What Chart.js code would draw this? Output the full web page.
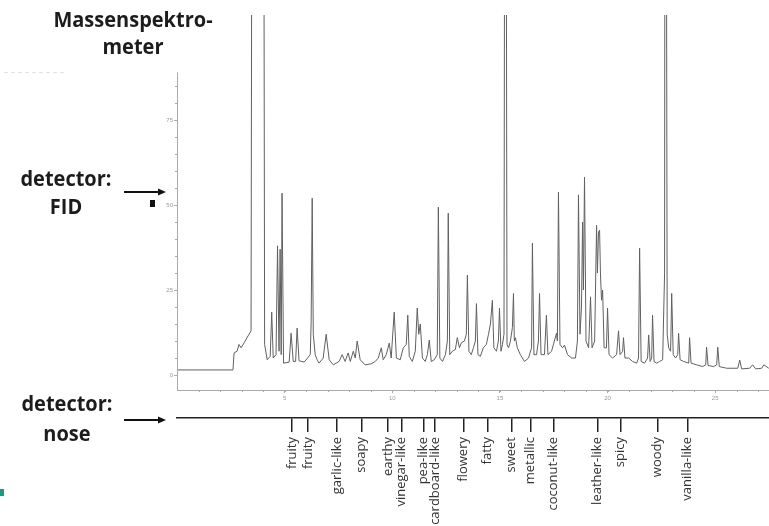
<!DOCTYPE html>
<html lang="de">
<head>
<meta charset="UTF-8">
<title>GC-FID / GC-O</title>
<script src="https://cdn.jsdelivr.net/npm/chart.js"></script>
<style>
  html, body { margin: 0; padding: 0; background: #fff; }
  #wrap { position: relative; width: 769px; height: 526px; overflow: hidden; }
  #c { position: absolute; left: 0; top: 0; }
  .lbl { position: absolute; font-family: "Open Sans", sans-serif; font-weight: 700; font-size: 20px;
         color: #1c1c1c; text-align: center; line-height: 25px; transform: scaleY(1.1); }
</style>
</head>
<body>
<div id="wrap">
  <canvas id="c" width="769" height="526"></canvas>
  <div class="lbl" style="left:23px; top:9px; width:220px; line-height:24px;">Massenspektro-<br>meter</div>
  <div class="lbl" style="left:0px; top:167px; width:132px;">detector:<br>FID</div>
  <div class="lbl" style="left:0px; top:391px; width:134px; line-height:27px;">detector:<br>nose</div>
</div>
<script>
// FID trace: retention time (min) and detector signal
const fidTime = [
  0.00, 2.60, 2.65, 2.79, 2.88, 2.98, 3.12, 3.30, 3.44, 3.49,
  4.02, 4.07, 4.19, 4.33, 4.40, 4.47, 4.60, 4.67, 4.74, 4.79,
  4.84, 4.88, 4.95, 5.21, 5.30, 5.40, 5.51, 5.58, 5.67, 5.91,
  6.19, 6.23, 6.28, 6.33, 6.42, 6.51, 6.60, 6.79, 6.93, 7.07,
  7.26, 7.53, 7.67, 7.81, 7.95, 8.05, 8.19, 8.28, 8.37, 8.51,
  8.74, 9.02, 9.21, 9.35, 9.49, 9.58, 9.72, 9.86, 9.95, 10.09,
  10.19, 10.37, 10.51, 10.65, 10.72, 10.79, 10.93, 11.07, 11.16, 11.23,
  11.30, 11.40, 11.53, 11.63, 11.72, 11.81, 11.95, 12.09, 12.14, 12.21,
  12.33, 12.47, 12.56, 12.60, 12.67, 12.79, 12.93, 13.02, 13.12, 13.21,
  13.35, 13.44, 13.49, 13.56, 13.67, 13.77, 13.86, 13.91, 13.98, 14.09,
  14.23, 14.37, 14.47, 14.56, 14.65, 14.72, 14.84, 14.93, 14.98, 15.05,
  15.12, 15.19, 15.23, 15.28, 15.33, 15.40, 15.49, 15.58, 15.63, 15.67,
  15.72, 15.81, 15.95, 16.14, 16.33, 16.47, 16.51, 16.58, 16.70, 16.79,
  16.84, 16.91, 17.07, 17.16, 17.23, 17.40, 17.53, 17.63, 17.67, 17.72,
  17.79, 17.91, 18.00, 18.14, 18.33, 18.51, 18.60, 18.65, 18.72, 18.79,
  18.84, 18.88, 18.93, 19.00, 19.12, 19.21, 19.28, 19.40, 19.44, 19.49,
  19.53, 19.58, 19.63, 19.67, 19.72, 19.77, 19.84, 19.95, 20.00, 20.07,
  20.23, 20.42, 20.51, 20.58, 20.70, 20.74, 20.81, 20.98, 21.16, 21.35,
  21.44, 21.49, 21.56, 21.72, 21.86, 21.91, 21.98, 22.05, 22.09, 22.16,
  22.28, 22.42, 22.56, 22.65, 22.67, 22.72, 22.77, 22.84, 22.93, 22.98,
  23.05, 23.16, 23.26, 23.30, 23.37, 23.53, 23.77, 23.81, 23.88, 24.14,
  24.42, 24.56, 24.60, 24.67, 24.93, 25.07, 25.12, 25.19, 25.53, 26.05,
  26.14, 26.23, 26.60, 26.74, 26.88, 27.16, 27.26, 27.49
];
const fidSignal = [
  1.5, 1.5, 6.5, 7.0, 9.0, 8.0, 9.5, 11.5, 13, 200,
  200, 9, 4.5, 5.5, 18.5, 5, 6, 38, 7, 37,
  6, 53.5, 3.5, 3.8, 12.3, 4, 4, 13.8, 4.2, 3.8,
  6, 15, 52, 12, 6, 4.5, 3.5, 5, 12, 4.5,
  3.0, 4, 6, 4, 6.5, 4, 7, 5, 10, 4.5,
  3, 3.3, 4, 5, 8, 4.5, 6, 9.4, 5, 18.5,
  5, 4.5, 8, 9, 17.6, 5.5, 4, 7, 19.7, 12,
  15, 5, 4, 6, 10.3, 4, 4.5, 6, 49.4, 5,
  4, 6, 10, 47.6, 6, 7, 7.5, 11, 8, 9.5,
  10, 12, 29.4, 7, 6, 8, 10, 21, 6, 5.5,
  8, 9, 12, 15, 22, 8, 7, 10, 19.7, 7,
  9, 12, 200, 200, 9, 8, 10, 14, 24, 10,
  11, 8, 6, 4, 5, 8, 38.8, 6, 6, 10,
  24, 6, 6, 17.6, 6, 7, 10, 12.3, 10, 53.8,
  9, 8, 8.8, 6, 5, 5, 10, 53, 12, 20,
  45, 25, 58.2, 10, 8, 23, 8, 10, 25, 44,
  30, 42, 42.6, 30, 22, 25, 8, 8, 19.7, 6,
  5, 6, 13, 6, 7, 11, 5, 5, 4, 3.5,
  5, 37.3, 4, 3.5, 5, 11.8, 4, 5, 17.6, 4,
  3.5, 4, 4.5, 30, 200, 200, 12, 8, 7, 24,
  6, 5, 6, 12.3, 4.5, 4, 3.5, 11, 3.5, 3,
  2.5, 3, 8.2, 2.8, 2.5, 3, 8.2, 2.5, 2, 2,
  4.4, 1.8, 2, 3, 1.8, 2, 3, 2
];
// sniffing port: retention times and odour descriptions
const odorTime = [5.35, 6.09, 7.44, 8.56, 9.81, 10.42, 11.44, 11.98, 13.30, 14.42,
                  15.53, 16.42, 17.49, 19.53, 20.60, 22.33, 23.72];
const odorLabels = ['fruity', 'fruity', 'garlic-like', 'soapy', 'earthy', 'vinegar-like', 'pea-like',
                    'cardboard-like', 'flowery', 'fatty', 'sweet', 'metallic', 'coconut-like',
                    'leather-like', 'spicy', 'woody', 'vanilla-like'];
const timeTicks = [5, 10, 15, 20, 25];
const signalTicks = [0, 25, 50, 75];

const X_MAX = 27.5, Y_MIN = -4.4, Y_MAX = 105.9, Y_AXIS_TOP = 89;

const decor = {
  id: 'decor',
  afterDraw(chart) {
    const ctx = chart.ctx, a = chart.chartArea, ys = chart.scales.y, xs = chart.scales.x;
    ctx.save();
    // y axis line, shorter than the plot
    ctx.strokeStyle = '#aaa';
    ctx.lineWidth = 1;
    ctx.beginPath();
    ctx.moveTo(a.left + 0.5, ys.getPixelForValue(Y_AXIS_TOP));
    ctx.lineTo(a.left + 0.5, a.bottom);
    ctx.stroke();
    for (let v = -5; v < Y_AXIS_TOP; v += 5) {
      const p = Math.round(ys.getPixelForValue(v)) + 0.5;
      if (p > a.bottom) continue;
      ctx.beginPath();
      ctx.moveTo(a.left - 2, p);
      ctx.lineTo(a.left + 1, p);
      ctx.stroke();
    }
    // minor ticks on the time axis, one per minute
    for (let t = 1; t < X_MAX; t++) {
      const p = Math.round(xs.getPixelForValue(t)) + 0.5;
      ctx.beginPath();
      ctx.moveTo(p, a.bottom);
      ctx.lineTo(p, a.bottom + 2);
      ctx.stroke();
    }
    // faint dashes top-left
    ctx.strokeStyle = '#e2e2e2';
    ctx.setLineDash([4, 3]);
    ctx.beginPath();
    ctx.moveTo(4, 72.5);
    ctx.lineTo(64, 72.5);
    ctx.stroke();
    ctx.setLineDash([]);
    // arrows
    ctx.strokeStyle = '#111';
    ctx.fillStyle = '#111';
    ctx.lineWidth = 2;
    [192, 420].forEach(y => {
      ctx.beginPath();
      ctx.moveTo(124, y);
      ctx.lineTo(160, y);
      ctx.stroke();
      ctx.beginPath();
      ctx.moveTo(166, y);
      ctx.lineTo(158, y - 3.5);
      ctx.lineTo(158, y + 3.5);
      ctx.closePath();
      ctx.fill();
    });
    ctx.fillRect(150, 200, 5, 7);
    // teal marker bottom-left
    ctx.fillStyle = '#1b9a82';
    ctx.fillRect(0, 489, 4, 7);
    ctx.restore();
  }
};

new Chart(document.getElementById('c'), {
  type: 'line',
  data: {
    datasets: [{
      data: fidTime.map((t, i) => ({ x: t, y: fidSignal[i] })),
      borderColor: '#606060',
      borderWidth: 1,
      pointRadius: 0,
      tension: 0,
      clip: 0
    }]
  },
  options: {
    responsive: false,
    animation: false,
    devicePixelRatio: 1,
    layout: { padding: { left: 157, top: 15, right: 0, bottom: 0 } },
    plugins: { legend: { display: false }, tooltip: { enabled: false } },
    scales: {
      x: {
        type: 'linear', position: 'bottom', weight: 0,
        min: 0, max: X_MAX,
        afterBuildTicks: s => { s.ticks = timeTicks.map(v => ({ value: v })); },
        afterFit: s => { s.height = 28; },
        border: { color: '#aaa' },
        grid: { drawOnChartArea: false, tickLength: 3, color: '#aaa' },
        ticks: { color: '#999', font: { size: 6 }, padding: 2, maxRotation: 0 }
      },
      nose: {
        type: 'linear', position: 'bottom', weight: 1,
        min: 0, max: X_MAX,
        afterBuildTicks: s => { s.ticks = odorTime.map(v => ({ value: v })); },
        afterFit: s => { s.height = 108; },
        border: { color: '#222', width: 1.5 },
        grid: { drawOnChartArea: false, tickLength: 14, color: '#222', lineWidth: 1.5 },
        ticks: {
          autoSkip: false, minRotation: 90, maxRotation: 90, padding: 5,
          color: '#333', font: { family: 'Open Sans', size: 13 },
          callback: (v, i) => odorLabels[i]
        }
      },
      y: {
        min: Y_MIN, max: Y_MAX,
        afterBuildTicks: s => { s.ticks = signalTicks.map(v => ({ value: v })); },
        afterFit: s => { s.width = 20; },
        border: { display: false },
        grid: { drawOnChartArea: false, tickLength: 3, color: '#aaa' },
        ticks: { color: '#999', font: { size: 6 }, padding: 1 }
      }
    }
  },
  plugins: [decor]
});
</script>
</body>
</html>
